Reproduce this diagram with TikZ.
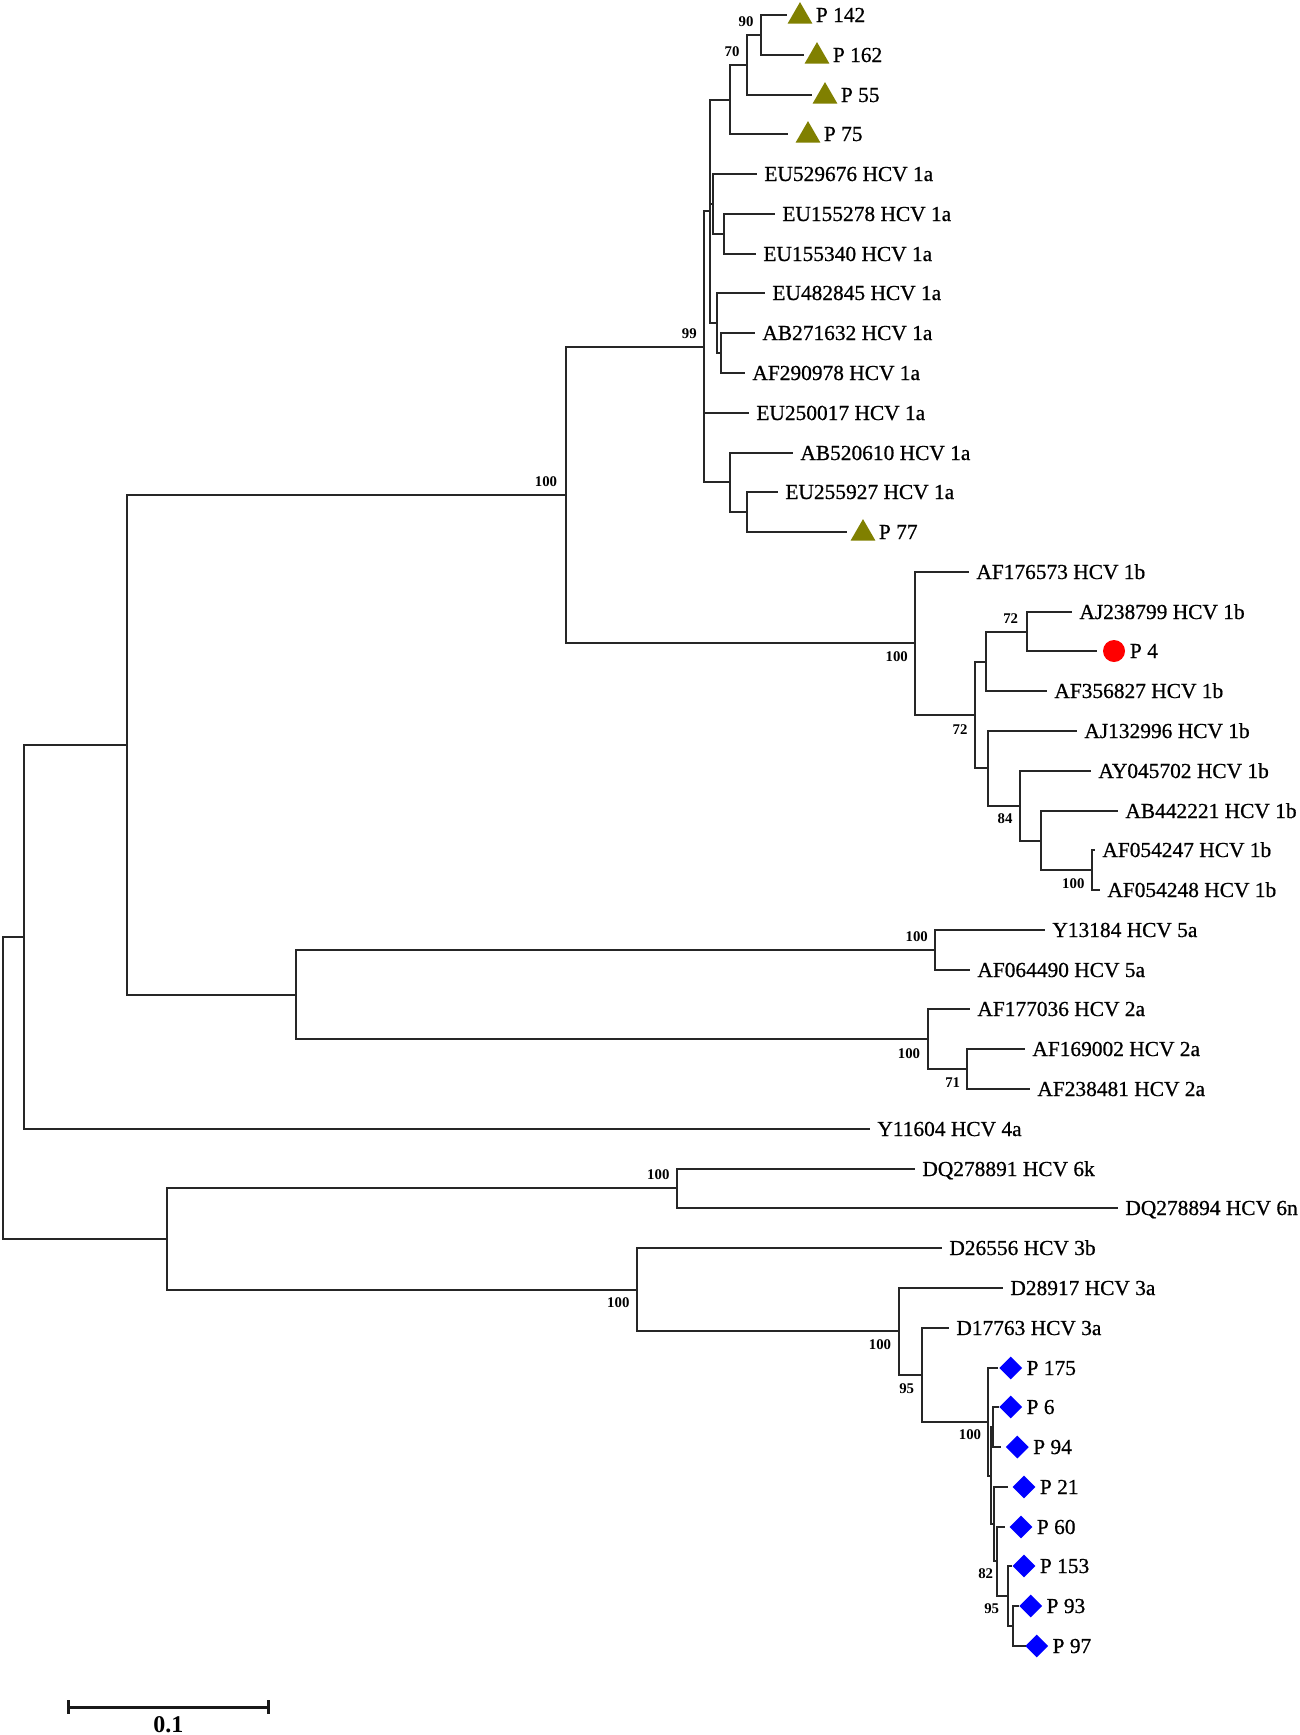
\documentclass[tikz,border=0pt]{standalone}
\usepackage{fontspec}
\setmainfont{Liberation Serif}
\newfontfamily\leaffam[FakeBold=0.7]{Liberation Serif}
\usetikzlibrary{shapes.geometric}
\newcommand\leaffont{\leaffam\fontsize{10.7pt}{12pt}\selectfont}
\newcommand\bsfont{\fontsize{7.4pt}{8pt}\selectfont\bfseries}
\newcommand\ly[1]{round(15+39.78*#1)}
% plain leaf: name, index, line end x, text
\newcommand\tleaf[4]{%
  \coordinate (e#1) at (#3,{\ly{#2}});
  \node[lab] (t#1) at ({#3+7},{\ly{#2}+7}) {#4};}
% marked leaf: name, index, line end x, marker style, marker x, text
\newcommand\mleaf[6]{%
  \coordinate (e#1) at (#3,{\ly{#2}});
  \node[#4] (m#1) at (#5,{\ly{#2}}) {};
  \node[lab] (t#1) at ({#5+15.5},{\ly{#2}+7}) {#6};}
\begin{document}
\begin{tikzpicture}[x=0.5pt,y=-0.5pt,
  br/.style={line width=1pt,draw=black!85},
  lab/.style={anchor=base west,inner sep=0pt,font=\leaffont},
  bs/.style={anchor=center,inner sep=0pt,font=\bsfont},
  tri/.style={regular polygon,regular polygon sides=3,minimum size=14.4pt,inner sep=0pt,fill={rgb,255:red,128;green,128;blue,0},yshift=-0.75pt},
  dia/.style={diamond,minimum width=11.6pt,minimum height=11.6pt,inner sep=0pt,fill={rgb,255:red,0;green,0;blue,255}},
  dot/.style={circle,minimum size=11pt,inner sep=0pt,fill={rgb,255:red,255;green,0;blue,0}},
  scalebar/.style={line width=1.5pt,draw=black!90}]
\fill[white] (0,0) rectangle (1300,1735);
\useasboundingbox (0,0) rectangle (1300,1735);

% ---------- leaves ----------
\mleaf{P142}{0}{787}{tri}{800}{P 142}
\mleaf{P162}{1}{804}{tri}{817}{P 162}
\mleaf{P55}{2}{812}{tri}{825}{P 55}
\mleaf{P75}{3}{788}{tri}{808}{P 75}
\tleaf{EU529676}{4}{757}{EU529676 HCV 1a}
\tleaf{EU155278}{5}{775}{EU155278 HCV 1a}
\tleaf{EU155340}{6}{756}{EU155340 HCV 1a}
\tleaf{EU482845}{7}{765}{EU482845 HCV 1a}
\tleaf{AB271632}{8}{755}{AB271632 HCV 1a}
\tleaf{AF290978}{9}{745}{AF290978 HCV 1a}
\tleaf{EU250017}{10}{749}{EU250017 HCV 1a}
\tleaf{AB520610}{11}{793}{AB520610 HCV 1a}
\tleaf{EU255927}{12}{778}{EU255927 HCV 1a}
\mleaf{P77}{13}{847}{tri}{863}{P 77}
\tleaf{AF176573}{14}{969}{AF176573 HCV 1b}
\tleaf{AJ238799}{15}{1072}{AJ238799 HCV 1b}
\mleaf{P4}{16}{1097}{dot}{1114}{P 4}
\tleaf{AF356827}{17}{1047}{AF356827 HCV 1b}
\tleaf{AJ132996}{18}{1077}{AJ132996 HCV 1b}
\tleaf{AY045702}{19}{1091}{AY045702 HCV 1b}
\tleaf{AB442221}{20}{1118}{AB442221 HCV 1b}
\tleaf{AF054247}{21}{1095}{AF054247 HCV 1b}
\tleaf{AF054248}{22}{1100}{AF054248 HCV 1b}
\tleaf{Y13184}{23}{1045}{Y13184 HCV 5a}
\tleaf{AF064490}{24}{970}{AF064490 HCV 5a}
\tleaf{AF177036}{25}{970}{AF177036 HCV 2a}
\tleaf{AF169002}{26}{1025}{AF169002 HCV 2a}
\tleaf{AF238481}{27}{1030}{AF238481 HCV 2a}
\tleaf{Y11604}{28}{870}{Y11604 HCV 4a}
\tleaf{DQ278891}{29}{915}{DQ278891 HCV 6k}
\tleaf{DQ278894}{30}{1118}{DQ278894 HCV 6n}
\tleaf{D26556}{31}{942}{D26556 HCV 3b}
\tleaf{D28917}{32}{1003}{D28917 HCV 3a}
\tleaf{D17763}{33}{949}{D17763 HCV 3a}
\mleaf{P175}{34}{998}{dia}{1010.7}{P 175}
\mleaf{P6}{35}{999}{dia}{1010.7}{P 6}
\mleaf{P94}{36}{1001}{dia}{1017.3}{P 94}
\mleaf{P21}{37}{1008}{dia}{1024}{P 21}
\mleaf{P60}{38}{1005}{dia}{1021}{P 60}
\mleaf{P153}{39}{1012}{dia}{1024}{P 153}
\mleaf{P93}{40}{1019}{dia}{1030.7}{P 93}
\mleaf{P97}{41}{1026}{dia}{1036.7}{P 97}

% ---------- internal nodes ----------
\coordinate (n90) at (761,35);
\coordinate (n70) at (747,65);
\coordinate (nA) at (730,100);
\coordinate (nB) at (724,234);
\coordinate (nE) at (713,204);
\coordinate (nC) at (721,353);
\coordinate (nD) at (717,323);
\coordinate (nF) at (710,211);
\coordinate (nH) at (747,512);
\coordinate (nG) at (730,482);
\coordinate (n99) at (704,347);
\coordinate (n72u) at (1027,632);
\coordinate (nP) at (986,662);
\coordinate (nPair) at (1092,870);
\coordinate (nAB) at (1041,841);
\coordinate (n84) at (1020,806);
\coordinate (nQ) at (988,768);
\coordinate (n72l) at (975,715);
\coordinate (n1b) at (915,643);
\coordinate (n100) at (566,495);
\coordinate (n5a) at (935,950);
\coordinate (n71) at (967,1069);
\coordinate (n2a) at (928,1039);
\coordinate (n52) at (296,995);
\coordinate (nUp) at (127,745);
\coordinate (nL) at (24,937);
\coordinate (n6) at (677,1188);
\coordinate (nU) at (1013,1626);
\coordinate (nV) at (1008,1596);
\coordinate (nW) at (997,1561);
\coordinate (nZ) at (994,1524);
\coordinate (nY) at (993,1427);
\coordinate (nX) at (991,1476);
\coordinate (nP100) at (988,1422);
\coordinate (n95) at (922,1375);
\coordinate (n3a) at (899,1331);
\coordinate (n3) at (637,1290);
\coordinate (n63) at (167,1239);
\coordinate (root) at (3,1088);

% ---------- branches ----------
\draw[br] (n90) |- (eP142) (n90) |- (eP162);
\draw[br] (n70) |- (n90) (n70) |- (eP55);
\draw[br] (nA) |- (n70) (nA) |- (eP75);
\draw[br] (nB) |- (eEU155278) (nB) |- (eEU155340);
\draw[br] (nE) |- (eEU529676) (nE) |- (nB);
\draw[br] (nC) |- (eAB271632) (nC) |- (eAF290978);
\draw[br] (nD) |- (eEU482845) (nD) |- (nC);
\draw[br] (nF) |- (nA) (nF) |- (nE) (nF) |- (nD);
\draw[br] (nH) |- (eEU255927) (nH) |- (eP77);
\draw[br] (nG) |- (eAB520610) (nG) |- (nH);
\draw[br] (n99) |- (nF) (n99) |- (eEU250017) (n99) |- (nG);
\draw[br] (n72u) |- (eAJ238799) (n72u) |- (eP4);
\draw[br] (nP) |- (n72u) (nP) |- (eAF356827);
\draw[br] (nPair) |- (eAF054247) (nPair) |- (eAF054248);
\draw[br] (nAB) |- (eAB442221) (nAB) |- (nPair);
\draw[br] (n84) |- (eAY045702) (n84) |- (nAB);
\draw[br] (nQ) |- (eAJ132996) (nQ) |- (n84);
\draw[br] (n72l) |- (nP) (n72l) |- (nQ);
\draw[br] (n1b) |- (eAF176573) (n1b) |- (n72l);
\draw[br] (n100) |- (n99) (n100) |- (n1b);
\draw[br] (n5a) |- (eY13184) (n5a) |- (eAF064490);
\draw[br] (n71) |- (eAF169002) (n71) |- (eAF238481);
\draw[br] (n2a) |- (eAF177036) (n2a) |- (n71);
\draw[br] (n52) |- (n5a) (n52) |- (n2a);
\draw[br] (nUp) |- (n100) (nUp) |- (n52);
\draw[br] (nL) |- (nUp) (nL) |- (eY11604);
\draw[br] (n6) |- (eDQ278891) (n6) |- (eDQ278894);
\draw[br] (nU) |- (eP93) (nU) |- (eP97);
\draw[br] (nV) |- (eP153) (nV) |- (nU);
\draw[br] (nW) |- (eP60) (nW) |- (nV);
\draw[br] (nZ) |- (eP21) (nZ) |- (nW);
\draw[br] (nY) |- (eP6) (nY) |- (eP94);
\draw[br] (nX) |- (nY) (nX) |- (nZ);
\draw[br] (nP100) |- (eP175) (nP100) |- (nX);
\draw[br] (n95) |- (eD17763) (n95) |- (nP100);
\draw[br] (n3a) |- (eD28917) (n3a) |- (n95);
\draw[br] (n3) |- (eD26556) (n3) |- (n3a);
\draw[br] (n63) |- (n6) (n63) |- (n3);
\draw[br] (root) |- (nL) (root) |- (n63);

% ---------- bootstrap values ----------
\node[bs] (b90) at (746,22) {90};
\node[bs] (b70) at (732,52) {70};
\node[bs] (b99) at (689.3,333.3) {99};
\node[bs] (b100a) at (546,481.5) {100};
\node[bs] (b100b) at (896.7,656.7) {100};
\node[bs] (b72u) at (1010.7,619) {72};
\node[bs] (b72l) at (960,729.3) {72};
\node[bs] (b84) at (1005,818.3) {84};
\node[bs] (b100c) at (1073.3,883.3) {100};
\node[bs] (b100d) at (916.7,936.7) {100};
\node[bs] (b100e) at (909,1053.3) {100};
\node[bs] (b71) at (952.7,1082.7) {71};
\node[bs] (b100f) at (658.3,1175) {100};
\node[bs] (b100g) at (618.3,1302.7) {100};
\node[bs] (b100h) at (880,1345) {100};
\node[bs] (b95a) at (906.7,1388.3) {95};
\node[bs] (b100i) at (970,1435) {100};
\node[bs] (b82) at (985.7,1574) {82};
\node[bs] (b95b) at (991.7,1608.3) {95};

% ---------- scale bar ----------
\coordinate (sb1) at (68,1707);
\coordinate (sb2) at (268,1707);
\coordinate (sb1t) at (68,1700);
\coordinate (sb1b) at (68,1714);
\coordinate (sb2t) at (268,1700);
\coordinate (sb2b) at (268,1714);
\draw[scalebar] (sb1) -- (sb2);
\draw[scalebar] (sb1t) -- (sb1b);
\draw[scalebar] (sb2t) -- (sb2b);
\node[anchor=center,inner sep=0pt,font=\fontsize{12pt}{14pt}\selectfont\bfseries] (sblab) at (168.3,1725) {0.1};
\end{tikzpicture}
\end{document}
